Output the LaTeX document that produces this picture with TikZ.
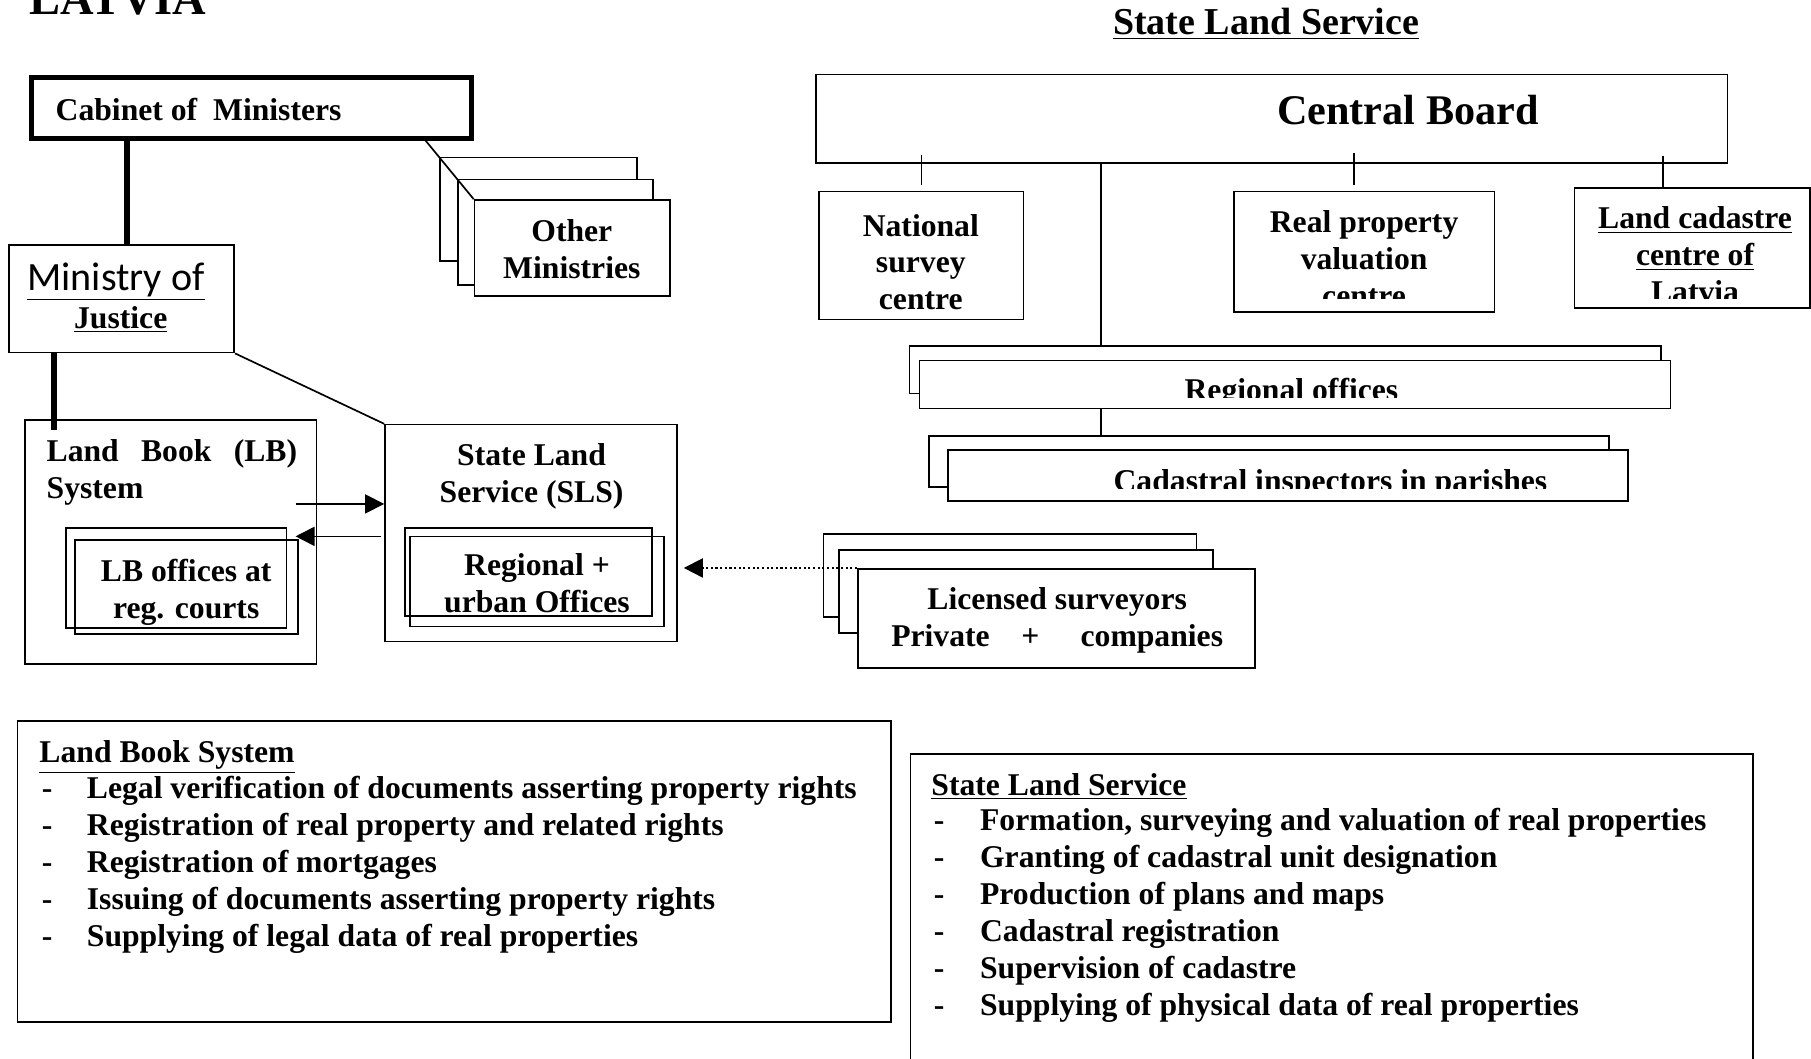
\documentclass[tikz,border=0pt]{standalone}
\usepackage{fontspec}
\setmainfont{Liberation Serif}
\newfontfamily\calfont{Carlito}
\usetikzlibrary{arrows.meta}

\tikzset{
  box/.style={draw, line width=0.8pt, inner sep=0pt},
  card/.style={box, fill=white},
  txt/.style={font=\bfseries\fontsize{15}{17.5}\selectfont, inner sep=0pt, align=center},
  arr/.style={line width=0.8pt, -{Triangle[length=9pt,width=9pt]}},
  dotarr/.style={line width=0.9pt, dash pattern=on 1pt off 1.2pt, -{Triangle[length=9pt,width=9pt]}},
  thickline/.style={line width=3pt},
}

\begin{document}
\begin{tikzpicture}
        \useasboundingbox (0,0) rectangle (30.15,17.62);
        % titles
        \node[font=\bfseries\fontsize{22}{26}\selectfont, inner sep=0pt, anchor=base west] (latvia) at (0.48,17.38) {LATVIA};
        \node[font=\bfseries\fontsize{18}{21}\selectfont, inner sep=0pt, anchor=base] (slstitle) at (21.08,17.04) {\underline{State Land Service}};

        % left side
        \node[box, line width=2.2pt, minimum width=7.33cm, minimum height=1.02cm] (cab) at (4.185,15.82) {};
        \node[txt, anchor=base west] (cabtxt) at (0.92,15.62) {Cabinet of~~Ministers};
        \node[box, minimum width=3.75cm, minimum height=1.79cm] (min) at (2.025,12.645) {};
        \node[inner sep=0pt, anchor=base] (mintxt) at (1.93,12.79) {\calfont\fontsize{19}{22}\selectfont\underline{Ministry of}};
        \node[txt, anchor=base] (justxt) at (2.01,12.15) {\underline{Justice}};

        % other ministries
        \node[card, minimum width=3.27cm, minimum height=1.73cm] (om1) at (8.965,14.135) {};
        \node[card, minimum width=3.25cm, minimum height=1.76cm] (om2) at (9.245,13.75) {};
        \node[card, minimum width=3.25cm, minimum height=1.60cm] (om3) at (9.525,13.49) {};
        \node[txt, anchor=base] (omtxt) at (9.52,12.98) {Other\\Ministries};

        % land book and SLS
        \node[box, minimum width=4.85cm, minimum height=4.07cm] (lb) at (2.845,8.595) {};
        \node[txt, align=justify, text width=4.17cm, anchor=base west] (lbtxt) at (0.77,9.94) {Land Book (LB) System};
        \node[box, minimum width=3.67cm, minimum height=1.66cm] (lbo1) at (2.935,8.0) {};
        \node[box, minimum width=3.71cm, minimum height=1.57cm] (lbo2) at (3.105,7.845) {};
        \node[txt, anchor=base] (lbotxt) at (3.10,7.33) {LB offices at\\reg. courts};

        \node[box, minimum width=4.86cm, minimum height=3.61cm] (sls) at (8.84,8.745) {};
        \node[txt, anchor=base] (slstxt) at (8.85,9.25) {State Land\\Service (SLS)};
        \node[box, minimum width=4.12cm, minimum height=1.46cm] (ruo1) at (8.80,8.10) {};
        \node[box, minimum width=4.23cm, minimum height=1.50cm] (ruo2) at (8.945,7.94) {};
        \node[txt, anchor=base] (ruotxt) at (8.94,7.42) {Regional +\\urban Offices};

        % licensed surveyors
        \node[card, minimum width=6.21cm, minimum height=1.38cm] (lic1) at (16.815,8.04) {};
        \node[card, minimum width=6.22cm, minimum height=1.38cm] (lic2) at (17.08,7.77) {};
        \node[card, minimum width=6.61cm, minimum height=1.65cm] (lic3) at (17.585,7.325) {};
        \node[txt, anchor=base] (lictxt) at (17.60,6.85) {Licensed surveyors\\Private\hspace*{1em}+\hspace*{1.3em}companies};

        % connectors left
        \draw[thickline] ([xshift=0.09cm]min.north) -- ([xshift=0.09cm]min.north |- cab.south);
        \coordinate (lbin) at (0.90,10.46);
        \draw[thickline] (lbin |- min.south) -- (lbin);
        \draw[line width=0.8pt] (min.south east) -- (sls.north west);
        \coordinate (cabout) at (7.06,15.31);
        \draw[line width=0.8pt] (cabout) -- (om3.north west);
        \coordinate (lbout) at (4.92,9.23);
        \draw[arr] (lbout) -- (lbout -| sls.west);
        \coordinate (lbback) at (4.92,8.69);
        \draw[arr] ([xshift=-0.5mm]sls.west |- lbback) -- (lbback);
        \draw[dotarr] (lic3.north west) -- ([xshift=1mm]sls.east |- lic3.north west);

        % central board
        \node[box, minimum width=15.17cm, minimum height=1.47cm] (cb) at (21.175,15.645) {};
        \node[font=\bfseries\fontsize{20}{24}\selectfont, inner sep=0pt, anchor=base] (cbtxt) at (23.44,15.54) {Central Board};

        \node[box, minimum width=3.40cm, minimum height=2.13cm] (nat) at (15.34,13.365) {};
        \node[txt, anchor=base] (nattxt) at (15.33,12.46) {National\\survey\\centre};
        \node[box, minimum width=4.34cm, minimum height=2.01cm] (rpv) at (22.71,13.425) {};
        \begin{scope}
          \clip (20.54,12.65) rectangle (24.88,14.43);
          \node[txt, anchor=base] (rpvtxt) at (22.71,12.52) {Real property\\valuation\\centre};
        \end{scope}
        \node[box, minimum width=3.92cm, minimum height=2.0cm] (lcc) at (28.17,13.49) {};
        \begin{scope}
          \clip (26.21,12.65) rectangle (30.13,14.49);
          \node[txt, anchor=base] (lcctxt) at (28.22,12.58) {\underline{Land cadastre}\\\underline{centre of}\\Latvia};
        \end{scope}

        \node[card, minimum width=12.51cm, minimum height=0.79cm] (regb) at (21.395,11.465) {};
        \node[card, minimum width=12.50cm, minimum height=0.80cm] (regf) at (21.56,11.22) {};
        \begin{scope}
          \clip (15.31,11.0) rectangle (27.81,11.62);
          \node[txt, anchor=base] (regtxt) at (21.5,10.96) {Regional offices};
        \end{scope}
        \node[card, minimum width=11.32cm, minimum height=0.85cm] (cadb) at (21.13,9.935) {};
        \node[card, minimum width=11.32cm, minimum height=0.85cm] (cadf) at (21.44,9.705) {};
        \begin{scope}
          \clip (15.78,9.48) rectangle (27.10,10.13);
          \node[txt, anchor=base] (cadtxt) at (22.15,9.44) {Cadastral inspectors in parishes};
        \end{scope}

        % connectors right
        \coordinate (trunk) at (18.33,11.86);
        \draw[line width=0.8pt] (trunk) -- (trunk |- cb.south);
        \draw[line width=0.8pt] (trunk |- regf.south) -- (trunk |- cadb.north);
        \draw[line width=0.8pt] ([yshift=1.5mm]nat.north |- cb.south) -- ([yshift=1mm]nat.north);
        \draw[line width=0.8pt] ([xshift=-1.7mm,yshift=1.8mm]rpv.north |- cb.south) -- ([xshift=-1.7mm,yshift=1mm]rpv.north);
        \draw[line width=0.8pt] ([xshift=-4.8mm,yshift=1.3mm]lcc.north |- cb.south) -- ([xshift=-4.8mm]lcc.north);

        % task lists
        \node[box, minimum width=14.54cm, minimum height=5.02cm] (lbs) at (7.56,3.11) {};
        \node[txt, anchor=base west] (lbshead) at (0.65,4.92) {\underline{Land Book System}};
        \foreach \txt [count=\i] in {Legal verification of documents asserting property rights,
            Registration of real property and related rights, Registration of mortgages,
            Issuing of documents asserting property rights, Supplying of legal data of real properties}{
          \node[txt, anchor=base west] (lbsd\i) at (0.69,4.945-0.615*\i) {-};
          \node[txt, anchor=base west] (lbsi\i) at (1.44,4.945-0.615*\i) {\txt};
        }
        \node[box, minimum width=14.02cm, minimum height=5.37cm] (slsb) at (22.17,2.385) {};
        \node[txt, anchor=base west] (slshead) at (15.50,4.38) {\underline{State Land Service}};
        \foreach \txt [count=\i] in {{Formation, surveying and valuation of real properties},
            Granting of cadastral unit designation, Production of plans and maps,
            Cadastral registration, Supervision of cadastre, Supplying of physical data of real properties}{
          \node[txt, anchor=base west] (slsd\i) at (15.54,4.405-0.615*\i) {-};
          \node[txt, anchor=base west] (slsi\i) at (16.31,4.405-0.615*\i) {\txt};
        }
      \end{tikzpicture}
\end{document}
